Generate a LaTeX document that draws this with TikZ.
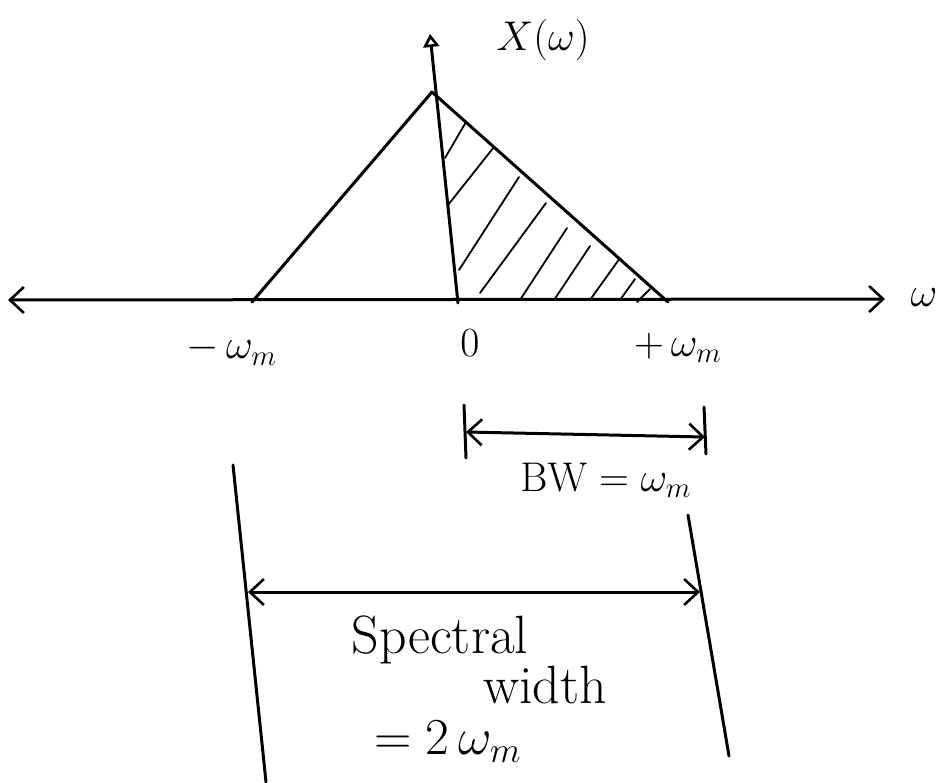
\documentclass[tikz,border=0pt]{standalone}
\usetikzlibrary{arrows.meta}
\begin{document}
\begin{tikzpicture}[x=1pt,y=-1pt,
  pen/.style={line width=3pt, line cap=round, line join=round},
  barb/.tip={Straight Barb[length=14pt,width=26pt,line width=2.6pt]},
  hatch/.style={line width=1.8pt, line cap=round},
  lbl/.style={font=\fontsize{20.74}{24}\selectfont, inner sep=0pt, scale=2, transform shape},
  word/.style={font=\fontsize{20.74}{24}\selectfont, inner sep=0pt, scale=2.6, transform shape}]
\useasboundingbox (0,0) rectangle (942,782);
% axes
\coordinate (axL) at (8,300);
\coordinate (axR) at (885,299);
\draw[pen, barb-barb] (axL) -- (axR);
\coordinate (vb) at (458,303);
\coordinate (vt) at (430,34);
\draw[pen, -{Triangle[open,length=13pt,width=16pt,line width=2.6pt]}] (vb) -- (vt);
\node[lbl] (w) at (924,298) {$\omega$};
\node[lbl] (X) at (543,40) {$X(\omega)$};
% triangle
\coordinate (apex) at (432,92);
\coordinate (fl) at (252,302);
\coordinate (fr) at (668,302);
\draw[pen] (fl) -- (apex) -- (fr);
% hatching
\foreach \a/\b/\c/\d in {445/158/466/122, 448/205/494/147, 459/270/519/177,
  480/293/546/203, 520/300/567/228, 554/300/590/246, 590/300/620/258,
  620/300/635/279, 637/302/650/289}
  \draw[hatch] (\a,\b) -- (\c,\d);
% labels
\node[lbl] (mwm) at (232,350) {$-\,\omega_m$};
\node[lbl] (zero) at (470,343) {$0$};
\node[lbl] (pwm) at (678,348) {$+\,\omega_m$};
% BW
\coordinate (b1t) at (464,405); \coordinate (b1b) at (466,458);
\coordinate (b2t) at (704,407); \coordinate (b2b) at (706,454);
\draw[pen] (b1t) -- (b1b);
\draw[pen] (b2t) -- (b2b);
\coordinate (ba) at (466,432); \coordinate (bb) at (705,437);
\draw[pen, barb-barb] (ba) -- (bb);
\node[lbl] (bw) at (606,480) {$\mathrm{BW}=\omega_m$};
% spectral width
\coordinate (l1t) at (233,465); \coordinate (l1b) at (266,782);
\coordinate (r1t) at (688,515); \coordinate (r1b) at (729,756);
\draw[pen] (l1t) -- (l1b);
\draw[pen] (r1t) -- (r1b);
\coordinate (sa) at (248,592); \coordinate (sb) at (700,592);
\draw[pen, barb-barb] (sa) -- (sb);
\node[word] (s1) at (440,640) {Spectral};
\node[word] (s2) at (545,685) {width};
\node[lbl, scale=1.25] (s3) at (448,742) {$=2\,\omega_m$};
\end{tikzpicture}
\end{document}
